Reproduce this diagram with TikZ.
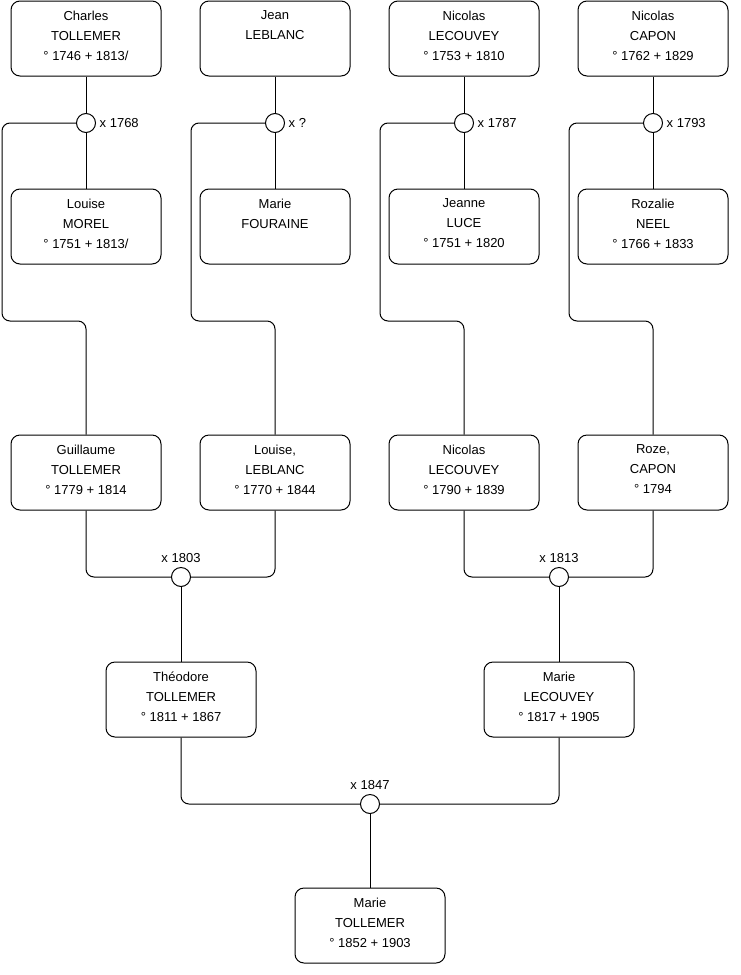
\documentclass[tikz,border=0pt]{standalone}
\usepackage{fontspec}
\setmainfont{Liberation Sans}
\usetikzlibrary{positioning}

\tikzset{
  fiche/.style={draw, rounded corners=9pt, inner sep=0pt, line width=1pt},
  union/.style={draw, circle, fill=white, minimum size=19pt, inner sep=0pt, line width=1pt},
  link/.style={line width=1pt, rounded corners=8pt},
  annee/.style={inner sep=1pt, font=\fontsize{13}{15}\selectfont},
}
% contenu d'une fiche : prénom, nom, dates
\newcommand{\personne}[3]{\parbox[c][75pt][t]{150pt}{\fontsize{13}{20}\selectfont\centering\vspace*{10pt}#1\\#2\\#3}}

\begin{document}
\begin{tikzpicture}[x=1pt, y=-1pt]
    \useasboundingbox (0,0) rectangle (740,975);

    % 1. Arrière-grands-parents
    \node[fiche] (charles)  at (86,38.5)  {\personne{Charles}{TOLLEMER}{° 1746 + 1813/}};
    \node[fiche] (jean)     at (275,38.5) {\personne{Jean}{LEBLANC}{}};
    \node[fiche] (nicolasL) at (464,38.5) {\personne{Nicolas}{LECOUVEY}{° 1753 + 1810}};
    \node[fiche] (nicolasC) at (653,38.5) {\personne{Nicolas}{CAPON}{° 1762 + 1829}};

    \node[fiche] (louiseM)  at (86,226.5)  {\personne{Louise}{MOREL}{° 1751 + 1813/}};
    \node[fiche] (marieF)   at (275,226.5) {\personne{Marie}{FOURAINE}{}};
    \node[fiche] (jeanne)   at (464,226.5) {\personne{Jeanne}{LUCE}{° 1751 + 1820}};
    \node[fiche] (rozalie)  at (653,226.5) {\personne{Rozalie}{NEEL}{° 1766 + 1833}};

    % 2. Grands-parents
    \node[fiche] (guillaume) at (86,472.5)  {\personne{Guillaume}{TOLLEMER}{° 1779 + 1814}};
    \node[fiche] (louiseL)   at (275,472.5) {\personne{Louise,}{LEBLANC}{° 1770 + 1844}};
    \node[fiche] (nicolas)   at (464,472.5) {\personne{Nicolas}{LECOUVEY}{° 1790 + 1839}};
    \node[fiche] (roze)      at (653,472.5) {\personne{Roze,}{CAPON}{° 1794}};

    % 3. Parents et enfant
    \node[fiche] (theodore) at (181,699.5) {\personne{Théodore}{TOLLEMER}{° 1811 + 1867}};
    \node[fiche] (marieL)   at (559,699.5) {\personne{Marie}{LECOUVEY}{° 1817 + 1905}};
    \node[fiche] (marieT)   at (370,925.5) {\personne{Marie}{TOLLEMER}{° 1852 + 1903}};

    % 4. Mariages du haut
    \draw[link] (charles) -- (louiseM);
    \draw[link] (jean) -- (marieF);
    \draw[link] (nicolasL) -- (jeanne);
    \draw[link] (nicolasC) -- (rozalie);
    \node[union] (m1768) at (86,123)  {};
    \node[union] (m1)    at (275,123) {};
    \node[union] (m1787) at (464,123) {};
    \node[union] (m1793) at (653,123) {};
    \node[annee, right=2.5pt of m1768] (x1768) {x 1768};
    \node[annee, right=2.5pt of m1]    (x1)    {x ?};
    \node[annee, right=2.5pt of m1787] (x1787) {x 1787};
    \node[annee, right=2.5pt of m1793] (x1793) {x 1793};

    \draw[link] (m1768.west) -- (2,123)   -- (2,321)   -- (86,321)  -- (guillaume.north);
    \draw[link] (m1.west)    -- (191,123) -- (191,321) -- (275,321) -- (louiseL.north);
    \draw[link] (m1787.west) -- (380,123) -- (380,321) -- (464,321) -- (nicolas.north);
    \draw[link] (m1793.west) -- (569,123) -- (569,321) -- (653,321) -- (roze.north);

    % 5. Mariages 1803 et 1813
    \node[union] (m1803) at (181,577) {};
    \node[union] (m1813) at (559,577) {};
    \node[annee, above=3pt of m1803] (x1803) {x 1803};
    \node[annee, above=3pt of m1813] (x1813) {x 1813};
    \draw[link] (guillaume.south) |- (m1803.west);
    \draw[link] (louiseL.south) |- (m1803.east);
    \draw[link] (nicolas.south) |- (m1813.west);
    \draw[link] (roze.south) |- (m1813.east);
    \draw[link] (m1803) -- (theodore);
    \draw[link] (m1813) -- (marieL);

    % 6. Mariage 1847
    \node[union] (m1847) at (370,804) {};
    \node[annee, above=3pt of m1847] (x1847) {x 1847};
    \draw[link] (theodore.south) |- (m1847.west);
    \draw[link] (marieL.south) |- (m1847.east);
    \draw[link] (m1847) -- (marieT);
\end{tikzpicture}
\end{document}
